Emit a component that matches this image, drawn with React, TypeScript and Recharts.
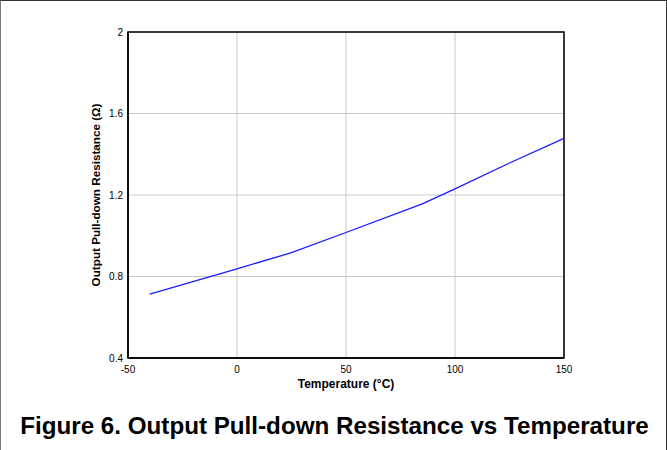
import React from 'react';
import { LineChart, Line, XAxis, YAxis, CartesianGrid, ReferenceArea, Label } from 'recharts';

const temperatures = [-40, 0, 25, 50, 85, 100, 125, 150];
const resistance = [0.714, 0.838, 0.917, 1.016, 1.156, 1.23, 1.357, 1.478];
const xTicks = [-50, 0, 50, 100, 150];
const yTicks = [0.4, 0.8, 1.2, 1.6, 2];

const data = temperatures.map((t, i) => ({ t, r: resistance[i] }));

const FONT = '"Liberation Sans", Arial, sans-serif';

export default function App() {
  return (
    <div style={{ position: 'absolute', left: 0, top: 0, width: 667, height: 450, boxSizing: 'border-box', borderTop: '1px solid #333', borderLeft: '1px solid #777', borderRight: '1px solid #333', background: '#fff', fontFamily: FONT }}>
      <div style={{ position: 'absolute', left: -1, top: -1 }}>
        <LineChart width={667} height={450} data={data} margin={{ top: 32, right: 103, bottom: 62, left: 78 }}>
          <CartesianGrid stroke="#c8c8c8" strokeWidth={1} />
          <XAxis
            dataKey="t"
            type="number"
            domain={[-50, 150]}
            ticks={xTicks}
            height={30}
            tickSize={0}
            tickMargin={8}
            tickLine={false}
            axisLine={{ stroke: '#000', strokeWidth: 1.5 }}
            tick={{ fill: '#000', fontSize: 10, fontFamily: FONT }}
            interval={0}
          >
            <Label
              content={(props: any) => {
                const vb = props.viewBox || {};
                const cx = (vb.x ?? 128) + (vb.width ?? 436) / 2;
                const cy = (vb.y ?? 358) + 26;
                return (
                  <text x={cx} y={cy} textAnchor="middle" dominantBaseline="central" style={{ fontWeight: 'bold', fontSize: 12, fill: '#000', fontFamily: FONT }}>
                    Temperature (°C)
                  </text>
                );
              }}
            />
          </XAxis>
          <YAxis
            type="number"
            domain={[0.4, 2]}
            ticks={yTicks}
            width={50}
            tickSize={0}
            tickMargin={5}
            tickLine={false}
            axisLine={{ stroke: '#000', strokeWidth: 1.5 }}
            tick={{ fill: '#000', fontSize: 10, fontFamily: FONT }}
            interval={0}
          >
            <Label
              content={(props: any) => {
                const vb = props.viewBox || {};
                const cx = (vb.x ?? 78) + (vb.width ?? 50) - 33;
                const cy = (vb.y ?? 32) + (vb.height ?? 326) / 2;
                return (
                  <text x={cx} y={cy} transform={`rotate(-90 ${cx} ${cy})`} textAnchor="middle" dominantBaseline="central" style={{ fontWeight: 'bold', fontSize: 11.7, fill: '#000', fontFamily: FONT }}>
                    Output Pull-down Resistance (Ω)
                  </text>
                );
              }}
            />
          </YAxis>
          <ReferenceArea x1={-50} x2={150} y1={0.4} y2={2} fill="none" stroke="#000" strokeWidth={1.5} fillOpacity={0} />
          <Line type="linear" dataKey="r" stroke="#1a1aff" strokeWidth={1.3} dot={false} isAnimationActive={false} />
        </LineChart>
      </div>
      <div style={{ position: 'absolute', left: 0, width: 667, top: 410, textAlign: 'center', fontWeight: 'bold', fontSize: 24.2, lineHeight: '30px', fontFamily: FONT, color: '#000', whiteSpace: 'nowrap' }}>
        Figure 6. Output Pull-down Resistance vs Temperature
      </div>
    </div>
  );
}
